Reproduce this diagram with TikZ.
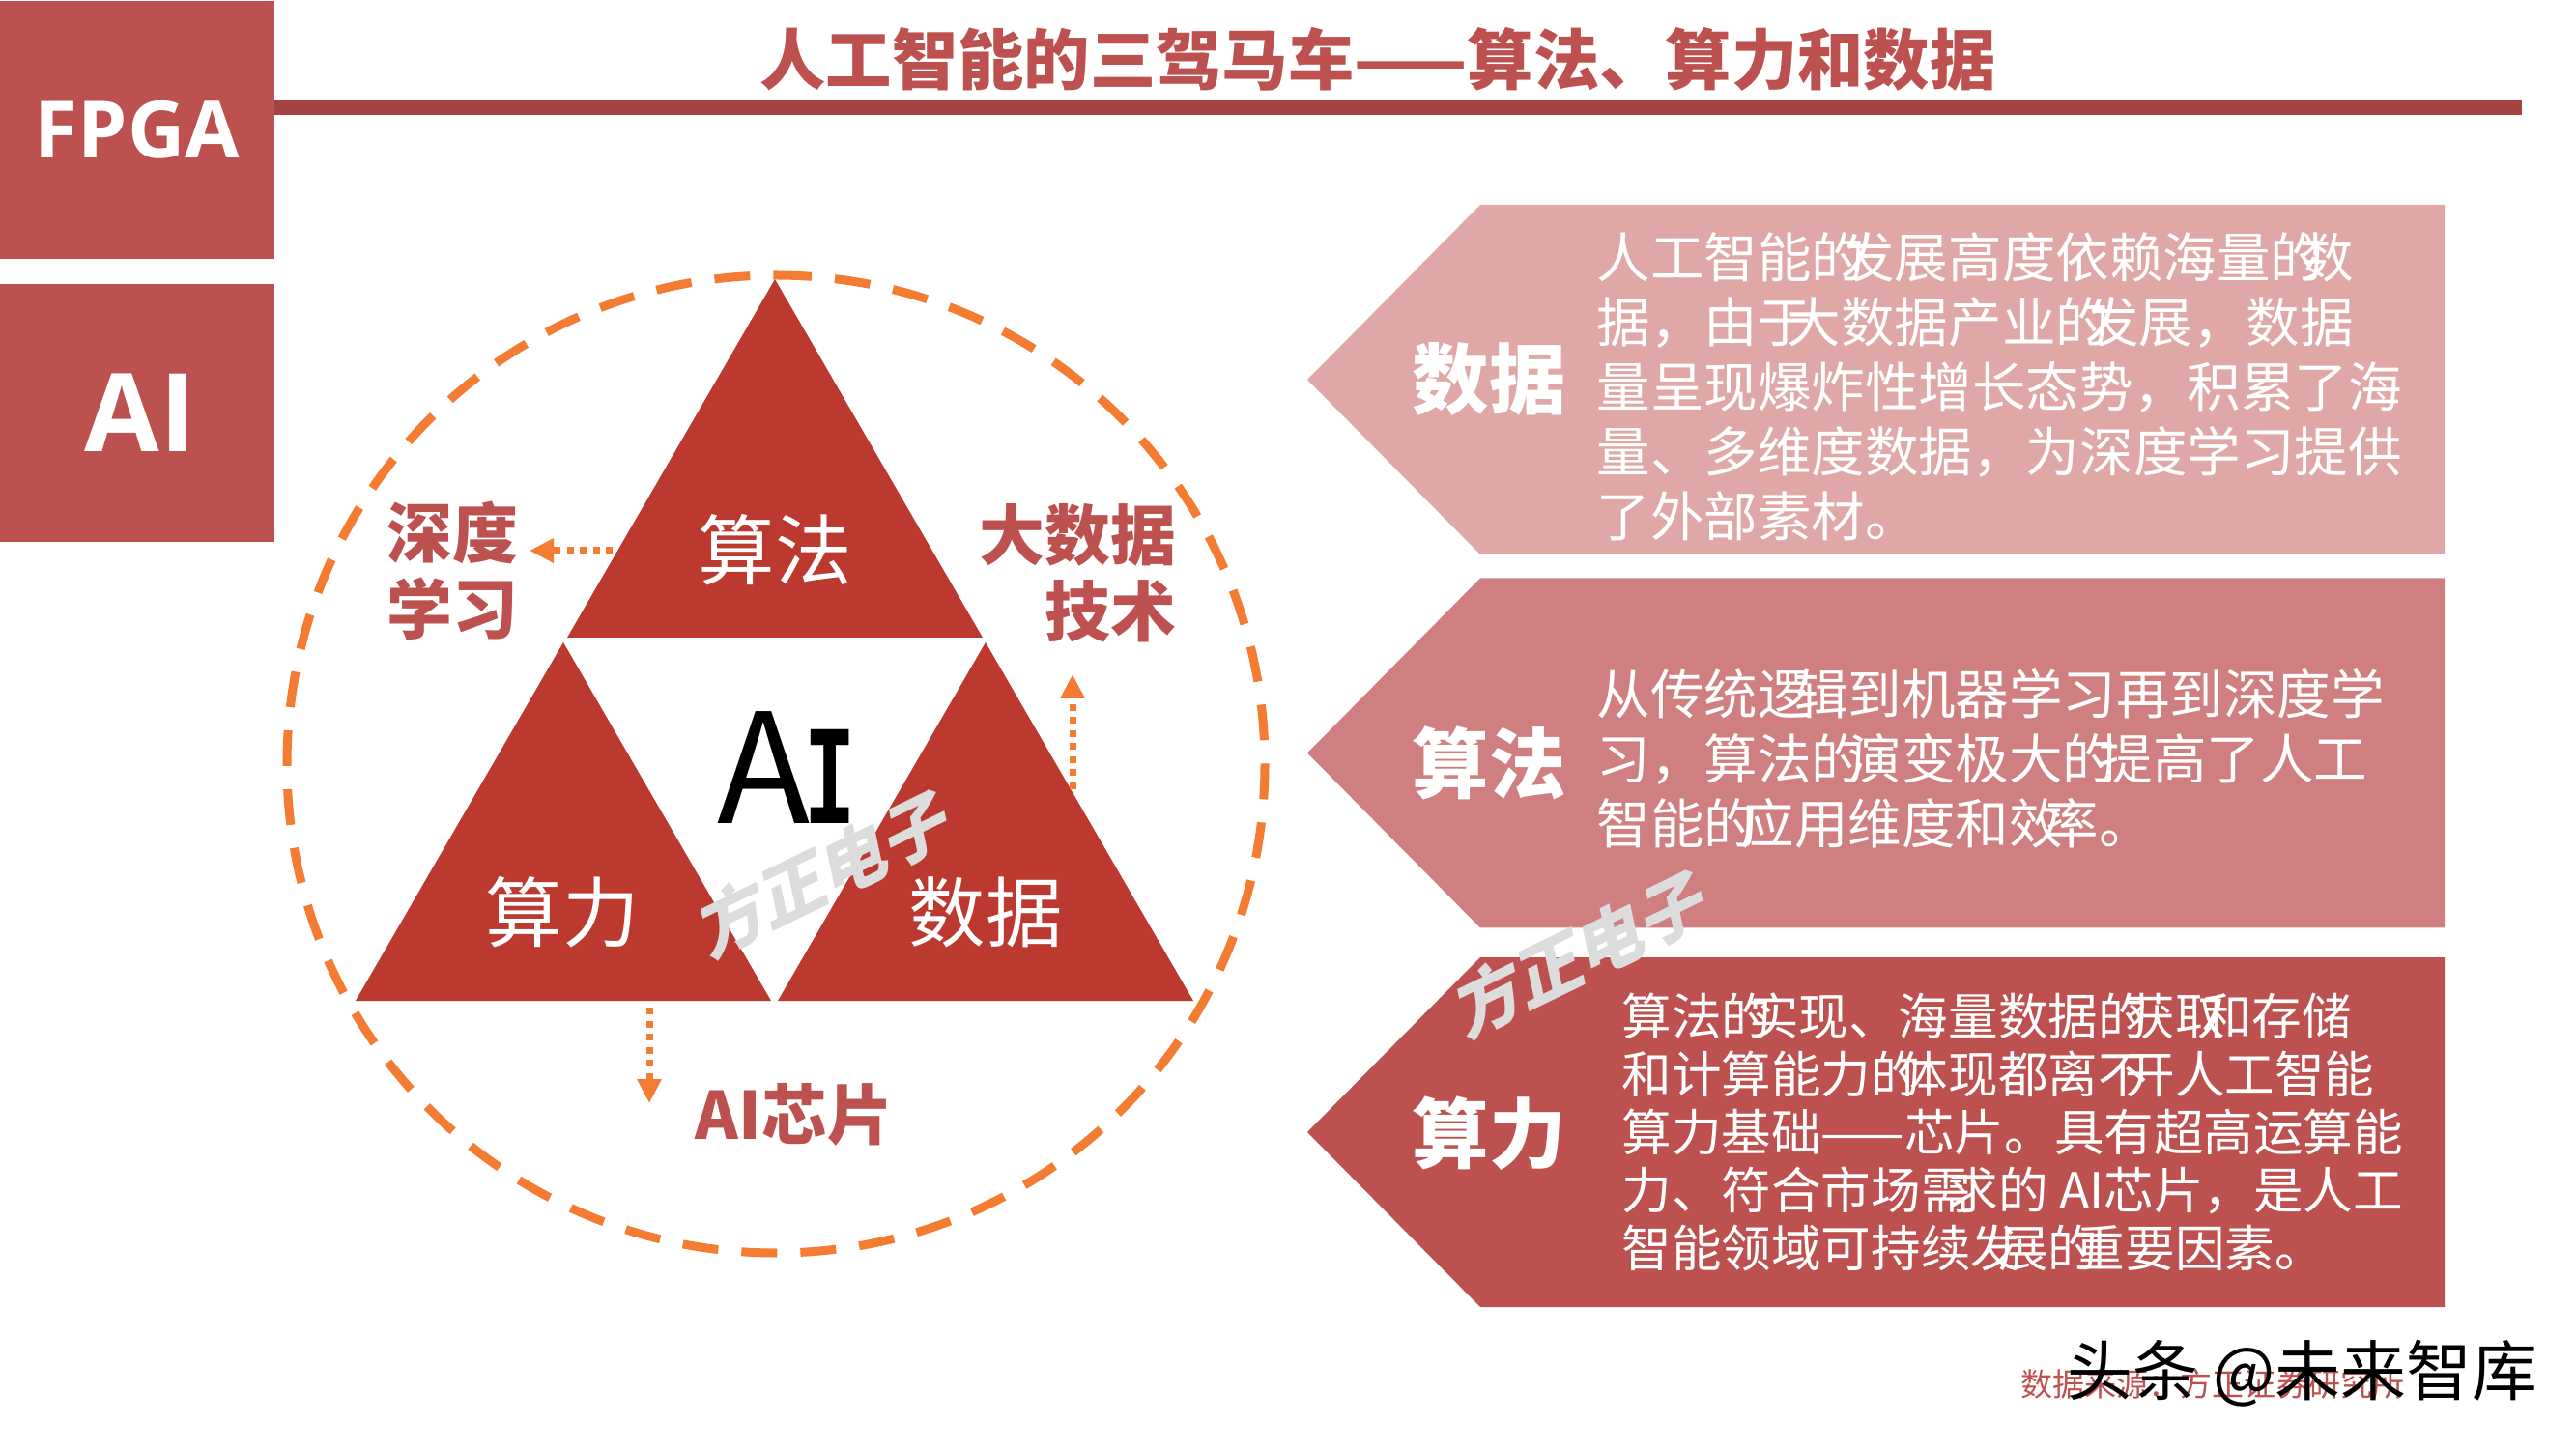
\documentclass[tikz,border=0pt]{standalone}
\usepackage{fontspec}
\usepackage{xcolor}
\usetikzlibrary{arrows.meta}
\setmainfont{Noto Sans CJK SC}
\newfontfamily\latinfont{Open Sans}
\newfontfamily\stemfont{Liberation Mono}
\newfontfamily\markfont[BoldFeatures={FakeSlant=0.25}]{Noto Sans CJK SC}
\definecolor{boxred}{HTML}{BD5150}
\definecolor{rulered}{HTML}{A34240}
\definecolor{trired}{HTML}{BC392F}
\definecolor{dashorange}{HTML}{F47B32}
\definecolor{penA}{HTML}{DFA8A7}
\definecolor{penB}{HTML}{CF7F7F}
\definecolor{penC}{HTML}{BD5150}
\definecolor{markgray}{HTML}{DCDCDC}
\newcommand{\tk}{\kern-.45em\relax}
\newcommand{\tks}{\kern-.32em\relax}
\newcommand{\fs}[2]{\fontsize{#1}{#2}\selectfont}
\tikzset{
	sidebox/.style={fill=boxred, text=white, inner sep=0, minimum width=2.84cm, minimum height=2.67cm, font=\latinfont\bfseries},
	trilabel/.style={text=white, inner sep=0, font=\fs{22.6}{27}},
	redlabel/.style={text=boxred, inner sep=0, font=\bfseries\fs{19.3}{22.4}},
	penlabel/.style={text=white, inner sep=0, font=\bfseries\fs{22.6}{27}},
	pentext/.style={text=white, inner sep=0, anchor=west, align=left, font=\fs{15.8}{19.05}},
	pentextsmall/.style={pentext, font=\fs{14.67}{17.05}},
	dotarrow/.style={-{Triangle[length=0.25cm,width=0.24cm]}, dashorange, line width=0.07cm, dash pattern=on 0.07cm off 0.065cm},
	stamp/.style={text=markgray, inner sep=0, rotate=26, font=\markfont\bfseries\fs{20}{24}}
}
\begin{document}
\begin{tikzpicture}[scale=1]
	\useasboundingbox (0,0) rectangle (26.66,15);

	% side boxes and title
	\node[sidebox] (fpga) at (1.42,13.655) {\fontsize{23.3}{28}\selectfont FPGA};
	\node[sidebox] (ai) at (1.42,10.725) {\fontsize{32}{37}\selectfont\kern.06cm AI};
	\fill[rulered] (2.84,13.96) rectangle (26.10,13.81);
	\node[text=boxred, inner sep=0, font=\bfseries\fs{19.44}{23}] (title) at (14.26,14.39) {人工智能的三驾马车——算法、算力和数据};

	% triangles and ring
	\foreach \x/\y in {8.02/12.11, 5.83/8.35, 10.20/8.35}
		\fill[trired] (\x,\y) -- ++(-2.15,-3.71) -- ++(4.3,0) -- cycle;
	\draw[dashorange, line width=0.09cm, dash pattern=on 0.37cm off 0.241cm] (8.03,12.15) arc (90:-270:5.06);

	\node[trilabel] (suanfa) at (8.02,9.31) {算法};
	\node[trilabel] (suanli) at (5.82,5.56) {算力};
	\node[trilabel] (shuju) at (10.20,5.56) {数据};
	\node[inner sep=0] (center) at (8.14,7.05) {\fs{45}{50}A\kern-.04em\scalebox{0.6}[1]{\stemfont\bfseries\fs{42}{50}I}};

	% dotted arrows
	\coordinate (deepfrom) at (6.34,9.30);
	\coordinate (deepto) at (5.48,9.30);
	\coordinate (datafrom) at (11.10,6.83);
	\coordinate (datato) at (11.10,8.02);
	\coordinate (chipfrom) at (6.72,4.57);
	\coordinate (chipto) at (6.72,3.58);
	\draw[dotarrow] (deepfrom) -- (deepto);
	\draw[dotarrow] (datafrom) -- (datato);
	\draw[dotarrow] (chipfrom) -- (chipto);

	\node[redlabel, anchor=west, align=left] (deep) at (4.00,9.09) {深度\\学习};
	\node[redlabel, anchor=east, align=right] (bigdata) at (12.18,9.07) {大数据\\技术};
	\node[redlabel] (chip) at (8.22,3.46) {AI芯片};

	% pentagons
	\foreach \y/\c in {11.07/penA, 7.205/penB, 3.28/penC}
		\fill[\c] (13.53,\y) -- (15.32,\y+1.81) -- (25.30,\y+1.81) -- (25.30,\y-1.81) -- (15.32,\y-1.81) -- cycle;

	\node[penlabel] (penshuju) at (15.41,11.07) {数据};
	\node[penlabel] (pensuanfa) at (15.41,7.10) {算法};
	\node[penlabel] (pensuanli) at (15.41,3.27) {算力};

	\node[pentext] (textshuju) at (16.52,11.00) {人工智能的\tk 发展高度依赖海量的\tk 数\\据，由于\tk 大数据产业的\tk 发展，数据\\量呈现爆炸性增长态势，积累了海\\量、多维度数据，为深度学习提供\\了外部素材。};
	\node[pentext] (textsuanfa) at (16.52,7.15) {从传统逻\tks 辑到机器学习再到深度学\\习，算法的\tks 演变极大的\tks 提高了人工\\智能的\tks 应用维度和效\tks 率。};
	\node[pentextsmall] (textsuanli) at (16.78,3.28) {算法的\tk 实现、海量数据的\tk 获取\tk 和存储\\和计算能力的\tk 体现都离不\tk 开人工智能\\算力基础——芯片。具有超高运算能\\力、符合市场需\tk 求的 AI芯片，是人工\\智能领域可持续发\tk 展的\tk 重要因素。};

	% stamps and footer
	\node[stamp] (stampa) at (8.48,5.94) {方正电子};
	\node[stamp] (stampb) at (16.31,5.11) {方正电子};
	\node[text=boxred, inner sep=0, anchor=west, font=\fs{9.4}{11}] (source) at (20.91,0.67) {数据来源：方正证券研究所};
	\node[text=black, inner sep=0, anchor=west, font=\fs{19.3}{23}] (logo) at (21.39,0.78) {头条 @未来智库};
\end{tikzpicture}
\end{document}
